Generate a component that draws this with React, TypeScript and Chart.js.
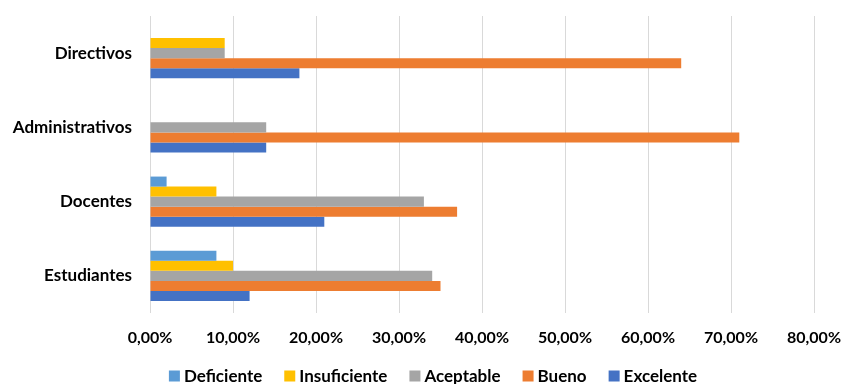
import React, { useEffect, useRef } from "react";
import { Chart, registerables } from "chart.js";

Chart.register(...registerables);

const categories = ["Directivos", "Administrativos", "Docentes", "Estudiantes"];
const seriesNames = ["Deficiente", "Insuficiente", "Aceptable", "Bueno", "Excelente"];
const deficiente = [0, 0, 2, 8];
const insuficiente = [9, 0, 8, 10];
const aceptable = [9, 14, 33, 34];
const bueno = [64, 71, 37, 35];
const excelente = [18, 14, 21, 12];
const colors = ["#5B9BD5", "#FFC000", "#A5A5A5", "#ED7D31", "#4472C4"];
const xTicks = [0, 10, 20, 30, 40, 50, 60, 70, 80];

const FONT = "Lato, 'Open Sans', sans-serif";

const customLegend = {
  id: "customLegend",
  afterDraw(chart: any) {
    const ctx = chart.ctx;
    const box = 11;
    const gap = 4;
    const itemGap = 22;
    const centerX = 433;
    const centerY = 376;
    ctx.save();
    ctx.font = `bold 17px ${FONT}`;
    const items = chart.data.datasets.map((ds: any) => ({
      text: ds.label as string,
      color: ds.backgroundColor as string,
      w: ctx.measureText(ds.label).width,
    }));
    const total =
      items.reduce((a: number, it: any) => a + box + gap + it.w, 0) + itemGap * (items.length - 1);
    let x = centerX - total / 2;
    ctx.textBaseline = "middle";
    ctx.textAlign = "left";
    for (const it of items) {
      ctx.fillStyle = it.color;
      ctx.fillRect(x, centerY - box / 2, box, box);
      x += box + gap;
      ctx.fillStyle = "#000";
      ctx.fillText(it.text, x, centerY + 1);
      x += it.w + itemGap;
    }
    ctx.restore();
  },
};

export default function App() {
  const ref = useRef<HTMLCanvasElement>(null);
  useEffect(() => {
    document.body.style.margin = "0";
    const values = [deficiente, insuficiente, aceptable, bueno, excelente];
    const chart = new Chart(ref.current!, {
      type: "bar",
      data: {
        labels: categories,
        datasets: seriesNames.map((name, i) => ({
          label: name,
          data: values[i],
          backgroundColor: colors[i],
          borderWidth: 0,
          categoryPercentage: 0.675,
          barPercentage: 1,
        })),
      },
      plugins: [customLegend],
      options: {
        indexAxis: "y",
        responsive: false,
        animation: false,
        layout: { padding: { top: 16, right: 29, left: 0, bottom: 37 } },
        plugins: {
          tooltip: { enabled: false },
          legend: { display: false },
        },
        scales: {
          x: {
            min: 0,
            max: 80,
            afterBuildTicks: (s: any) => {
              s.ticks = xTicks.map((v) => ({ value: v }));
            },
            afterFit: (s: any) => {
              s.height = 34;
              s.paddingLeft = 0;
              s.paddingRight = 0;
            },
            grid: { color: "#d9d9d9", lineWidth: 1, drawTicks: false },
            border: { display: false },
            ticks: {
              padding: 15,
              maxRotation: 0,
              color: "#000",
              font: { family: FONT, size: 16, weight: "bold" },
              callback: (v: any) => Number(v).toFixed(2).replace(".", ",") + "%",
            },
          },
          y: {
            grid: { display: false, drawTicks: false },
            border: { display: false },
            afterFit: (s: any) => {
              s.width = 150;
              s.paddingTop = 0;
              s.paddingBottom = 0;
            },
            ticks: {
              padding: 18,
              color: "#000",
              font: { family: FONT, size: 17, weight: "bold" },
            },
          },
        },
      },
    } as any);
    return () => chart.destroy();
  }, []);
  return <canvas ref={ref} width={843} height={384} style={{ display: "block" }} />;
}
